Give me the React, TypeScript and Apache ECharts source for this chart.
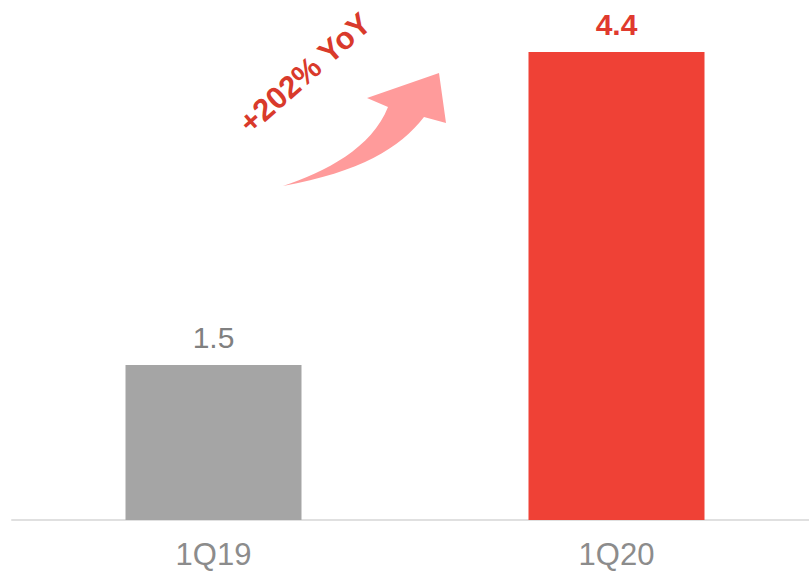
import React, { useEffect, useRef } from "react";
import * as echarts from "echarts";

const categories = ["1Q19", "1Q20"];
const values = [1.45, 4.38];
const barColors = ["#a5a5a5", "#ef4136"];
const labelColors = ["#808080", "#e03a2e"];
const labelWeights = ["normal", "bold"];
const growthText = "+202% YoY";

const arrowPath =
  "M283 186 C 325 172, 372 148, 388 107 L 367 98 L 439 73 L 446 123 L 424 117 C 400 148, 360 172, 283 186 Z";

export default function App() {
  const ref = useRef<HTMLDivElement>(null);
  useEffect(() => {
    if (!ref.current) return;
    echarts.graphic.registerShape("arrowShape", echarts.graphic.extendPath(arrowPath, {}));
    const chart = echarts.init(ref.current, null, { renderer: "svg" });
    chart.setOption({
      animation: false,
      grid: { left: 12, width: 806, top: 52, height: 468 },
      xAxis: {
        type: "category",
        data: categories,
        axisLine: { show: true, lineStyle: { color: "#e0e0e0", width: 2 } },
        axisTick: { show: false },
        axisLabel: {
          color: "#8c8c8c",
          fontSize: 31,
          fontFamily: "Liberation Sans, Arial, sans-serif",
          margin: 19,
        },
      },
      yAxis: { type: "value", min: 0, max: 4.38, show: false, splitLine: { show: false } },
      series: [
        {
          type: "bar",
          barWidth: 176,
          data: values.map((v, i) => ({
            value: v,
            itemStyle: { color: barColors[i] },
            label: {
              show: true,
              position: "top",
              distance: 13,
              color: labelColors[i],
              fontWeight: labelWeights[i],
              fontSize: 30,
              fontFamily: "Liberation Sans, Arial, sans-serif",
              formatter: (p: any) => (Math.round(Number(p.value) * 10 + 1e-6) / 10).toFixed(1),
            },
          })),
        },
      ],
      graphic: [
        {
          type: "arrowShape",
          x: 0,
          y: 0,
          style: { fill: "#ff9b9b" },
        },
        {
          type: "text",
          x: 305,
          y: 73,
          rotation: (41.5 * Math.PI) / 180,
          style: {
            text: growthText,
            x: 0,
            y: 0,
            align: "center",
            verticalAlign: "middle",
            fill: "#d93a2b",
            font: "bold 31px 'Liberation Sans', Arial, sans-serif",
          },
        },
      ],
    });
    return () => chart.dispose();
  }, []);
  return (
    <div style={{ position: "absolute", left: 0, top: 0, width: 809, height: 572, overflow: "hidden" }}>
      <div ref={ref} style={{ width: 820, height: 572 }} />
    </div>
  );
}
